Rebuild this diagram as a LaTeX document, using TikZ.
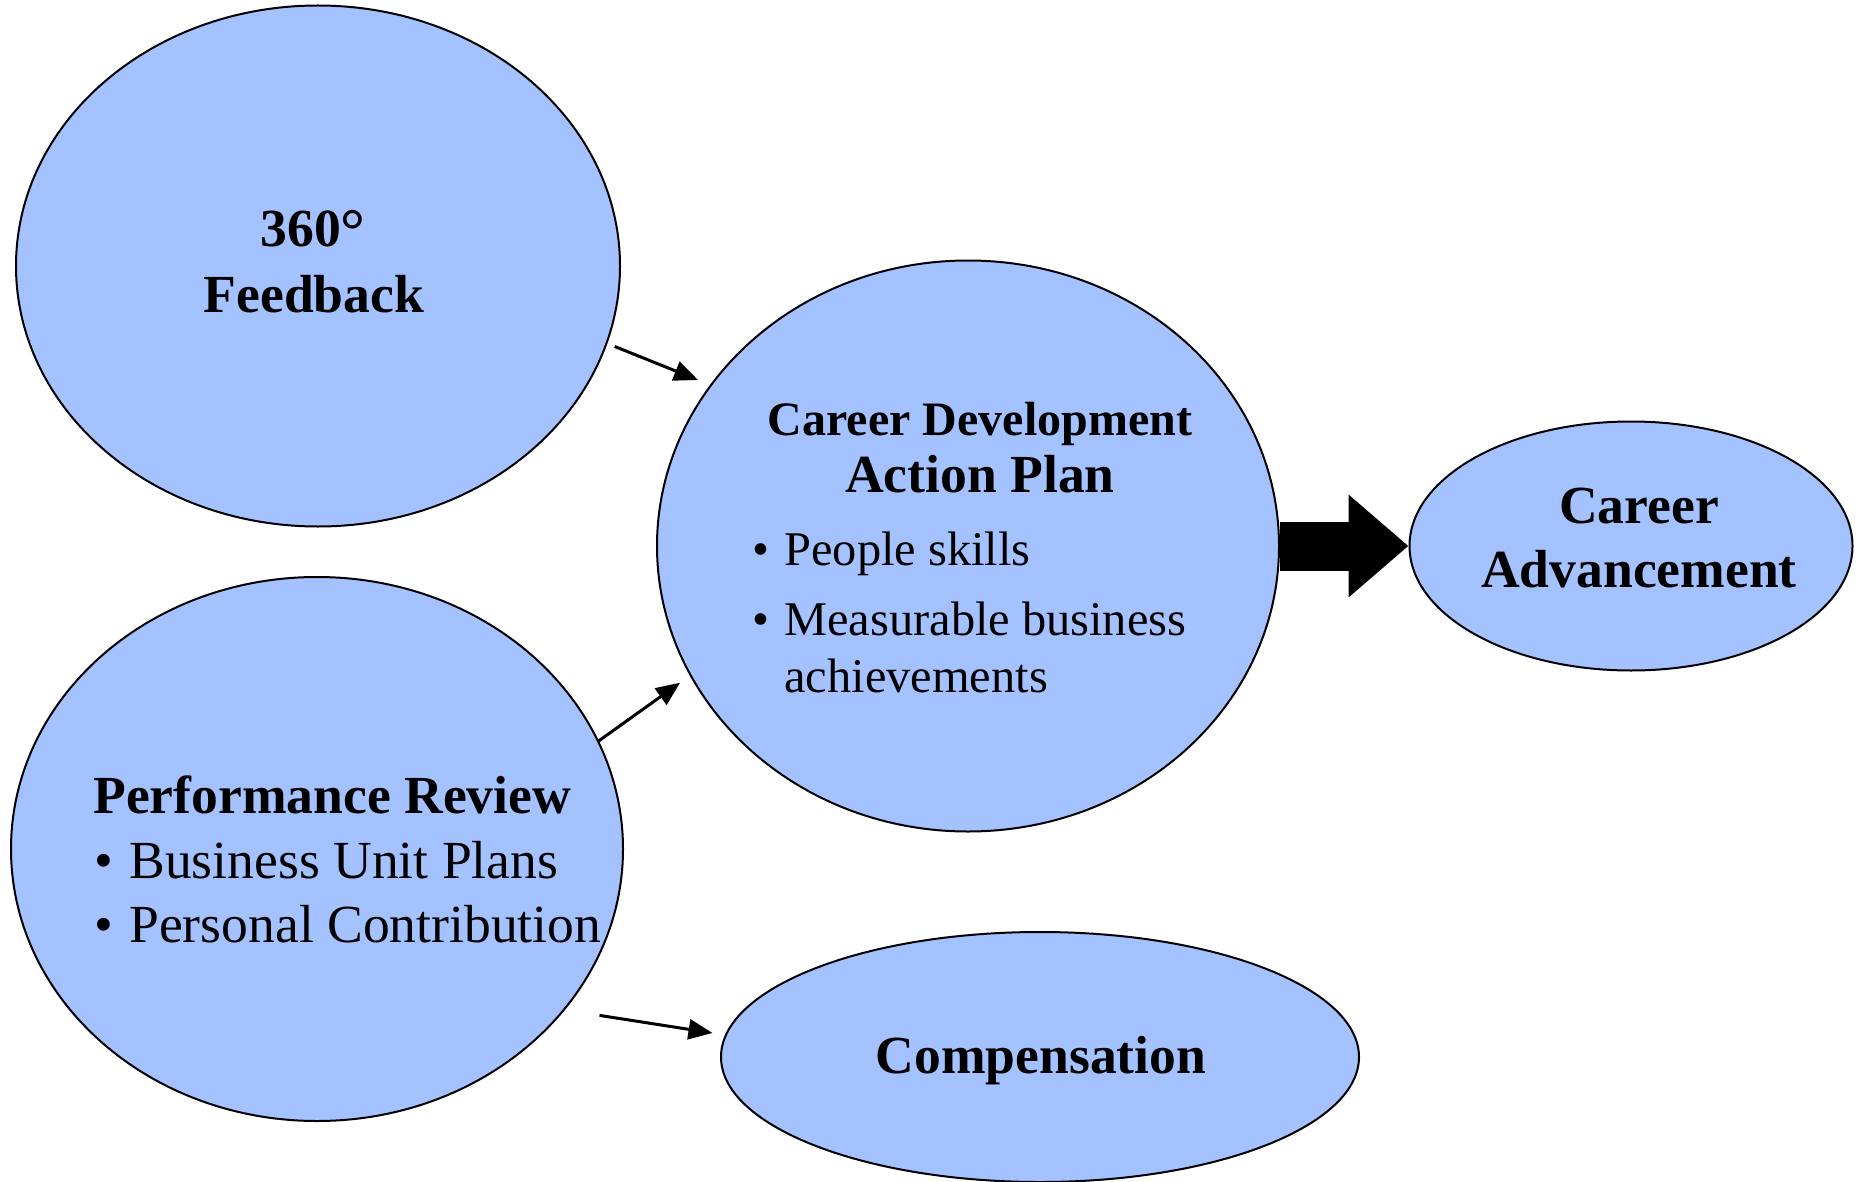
\documentclass[tikz,border=0pt]{standalone}
\usepackage{fontspec}
\setmainfont{Liberation Serif}
\usetikzlibrary{shapes.geometric,arrows.meta}
\definecolor{bubblefill}{RGB}{163,194,255}
\tikzset{
  bubble/.style={ellipse, draw, line width=1pt, fill=bubblefill, inner sep=0pt},
  feed/.style={line width=1.5pt, -{Triangle[length=12pt,width=10pt]}},
  fat/.style={line width=24.5pt, -{Triangle[length=30pt,width=49.5pt]}},
  big/.style={inner sep=0pt, font=\fontsize{26.8}{32}\selectfont\bfseries},
  mid/.style={inner sep=0pt, font=\fontsize{24}{29}\selectfont\bfseries},
  plain/.style={inner sep=0pt, font=\fontsize{26.8}{32}\selectfont},
  small/.style={inner sep=0pt, font=\fontsize{24.2}{29}\selectfont}
}
\begin{document}
\begin{tikzpicture}[x=0.5pt, y=-0.5pt]

  \newcommand\Bul[2]{\makebox[#1][l]{\textbullet}#2}

  \useasboundingbox (0,0) rectangle (1862,1182);

  \node[bubble, minimum width=302pt, minimum height=260.5pt] (fb) at (318,266) {};
  \node[bubble, minimum width=306pt, minimum height=272pt] (pr) at (317,849) {};
  \node[bubble, minimum width=311pt, minimum height=285.5pt] (cd) at (968,546) {};
  \node[bubble, minimum width=221.5pt, minimum height=124.5pt] (ca) at (1631,546) {};
  \node[bubble, minimum width=319pt, minimum height=125pt] (cp) at (1040,1057) {};

  \node[big, anchor=base] (fb1) at (313,247) {360\raisebox{-2pt}{\fontsize{31}{31}\selectfont °}};
  \node[big, anchor=base] (fb2) at (314,313) {Feedback};

  \node[mid, anchor=base] (cd1) at (980,435) {Career Development};
  \node[big, anchor=base] (cd2) at (980,492) {Action Plan};
  \node[small, anchor=base west] (cd3) at (752,565) {\Bul{16pt}{People skills}};
  \node[small, anchor=base west] (cd4) at (752,635) {\Bul{16pt}{Measurable business}};
  \node[small, anchor=base west] (cd5) at (784,692) {achievements};

  \node[big, anchor=base west] (pr1) at (93,813) {Performance Review};
  \node[plain, anchor=base west] (pr2) at (94,878) {\Bul{17.5pt}{Business Unit Plans}};
  \node[plain, anchor=base west] (pr3) at (94,942) {\Bul{17.5pt}{Personal Contribution}};

  \node[big, anchor=base] (ca1) at (1639,523) {Career};
  \node[big, anchor=base] (ca2) at (1639,587) {Advancement};

  \node[big, anchor=base] (cp1) at (1041,1073) {Compensation};

  \draw[feed, shorten <=4pt, shorten >=6.5pt] (fb.-15) -- (cd.148.4);
  \draw[feed, shorten >=6pt] (pr.21) -- (cd.205.9);
  \draw[feed, shorten <=17.5pt, shorten >=6.3pt] (pr.-33) -- (cp.176.2);

  \draw[fat] (cd.east) -- (ca.west);

\end{tikzpicture}
\end{document}
